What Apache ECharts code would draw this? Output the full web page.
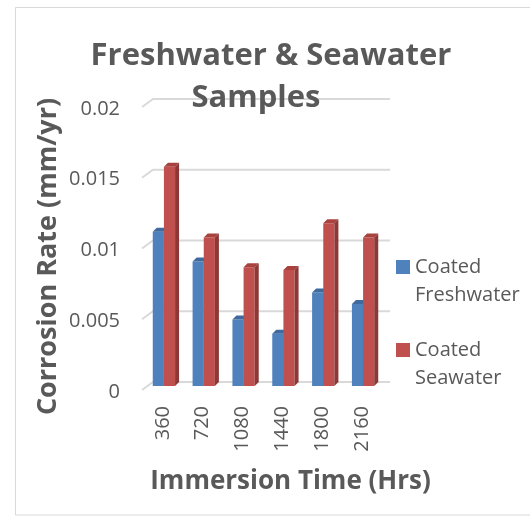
<!DOCTYPE html>
<html>
<head>
<meta charset="utf-8">
<script src="https://cdn.jsdelivr.net/npm/echarts@6/dist/echarts.min.js"></script>
<style>
  html, body { margin: 0; padding: 0; background: #fff; }
  #chart { width: 530px; height: 516px; }
</style>
</head>
<body>
<div id="chart"></div>
<script>
// chart data
var categories = ['360', '720', '1080', '1440', '1800', '2160'];
var freshwater = [0.0109, 0.0088, 0.0047, 0.0037, 0.0066, 0.0058];
var seawater = [0.0155, 0.0105, 0.0084, 0.0082, 0.0115, 0.0105];
var yTicks = [0, 0.005, 0.01, 0.015, 0.02];
var yTickLabels = ['0', '0.005', '0.01', '0.015', '0.02'];

var textColor = '#595959';
var font = '"Open Sans", sans-serif';

// 3d-looking bar: front face, top face, side face
function bar3d(slot, front, top, side) {
  return function (params, api) {
    var p = api.coord([api.value(0), api.value(1)]);
    var b = api.coord([api.value(0), 0]);
    var band = api.size([1, 0])[0];
    var w = band * 0.28;
    var d = 4;
    var bx = p[0] - w + slot * w;
    var ty = p[1];
    var by = b[1];
    return {
      type: 'group',
      children: [
        {
          type: 'rect',
          shape: { x: bx - d, y: ty + d, width: w, height: by - ty },
          style: { fill: front }
        },
        {
          type: 'polygon',
          shape: { points: [[bx - d, ty + d], [bx - d + w, ty + d], [bx + w, ty], [bx, ty]] },
          style: { fill: top }
        },
        {
          type: 'polygon',
          shape: { points: [[bx - d + w, ty + d], [bx + w, ty], [bx + w, by], [bx - d + w, by + d]] },
          style: { fill: side }
        }
      ]
    };
  };
}

// back wall gridlines with the slanted side-wall piece
function gridLine(params, api) {
  var cs = params.coordSys;
  var y = api.coord([0, api.value(1)])[1];
  return {
    type: 'polyline',
    shape: { points: [[cs.x - 6, y + 8], [cs.x + 5, y], [cs.x + cs.width + 3, y]] },
    style: { stroke: '#d9d9d9', lineWidth: 2, fill: null }
  };
}

var myChart = echarts.init(document.getElementById('chart'));
myChart.setOption({
  animation: false,
  textStyle: { fontFamily: font },
  graphic: [
    {
      type: 'rect',
      shape: { x: 15.5, y: 7.5, width: 530, height: 507.5 },
      style: { fill: null, stroke: '#d9d9d9', lineWidth: 1 },
      z: -10
    },
    {
      type: 'text',
      x: 271, y: 56,
      style: { text: 'Freshwater & Seawater', align: 'center', verticalAlign: 'middle', fill: textColor, font: 'bold 31px ' + font },
      z: 10
    },
    {
      type: 'text',
      x: 256, y: 98,
      style: { text: 'Samples', align: 'center', verticalAlign: 'middle', fill: textColor, font: 'bold 31px ' + font },
      z: 10
    }
  ],
  grid: {
    left: 148,
    right: 143,
    top: 99,
    bottom: 134
  },
  legend: {
    orient: 'vertical',
    left: 396,
    top: 225,
    padding: 0,
    itemWidth: 14,
    itemHeight: 14,
    itemGap: -1,
    icon: 'rect',
    formatter: function (name) {
      // empty first line keeps "Coated" level with the swatch
      return '\n' + name.replace(' ', '\n');
    },
    textStyle: {
      color: textColor,
      fontSize: 20,
      lineHeight: 28
    },
    data: ['Coated Freshwater', 'Coated Seawater']
  },
  xAxis: {
    type: 'category',
    data: categories,
    name: 'Immersion Time (Hrs)',
    nameLocation: 'middle',
    nameGap: 87,
    nameTextStyle: { color: textColor, fontSize: 26, fontWeight: 'bold', padding: [0, 0, 0, 46] },
    axisLine: { show: false },
    axisTick: { show: false },
    axisLabel: {
      rotate: 90,
      margin: 24,
      color: textColor,
      fontSize: 20,
      lineHeight: 10,
      verticalAlign: 'bottom'
    }
  },
  yAxis: {
    type: 'value',
    min: 0,
    max: 0.02,
    interval: 0.005,
    name: 'Corrosion Rate (mm/yr)',
    nameLocation: 'middle',
    nameRotate: 90,
    nameGap: 86,
    nameTextStyle: { color: textColor, fontSize: 27, fontWeight: 'bold', padding: [0, 32, 0, 0] },
    axisLine: { show: false },
    axisTick: { show: false },
    splitLine: { show: false },
    axisLabel: {
      margin: 28,
      color: textColor,
      fontSize: 20,
      lineHeight: 20,
      verticalAlign: 'top',
      formatter: function (v) {
        return yTickLabels[yTicks.indexOf(Math.round(v * 1000) / 1000)];
      }
    }
  },
  series: [
    {
      type: 'custom',
      name: 'grid',
      silent: true,
      z: 1,
      renderItem: gridLine,
      data: yTicks.map(function (v) { return [0, v]; })
    },
    {
      type: 'custom',
      name: 'Coated Freshwater',
      z: 2,
      itemStyle: { color: '#4F81BD' },
      renderItem: bar3d(0, '#4F81BD', '#3F6A9E', '#385D8A'),
      data: freshwater.map(function (v, i) { return [i, v]; })
    },
    {
      type: 'custom',
      name: 'Coated Seawater',
      z: 3,
      itemStyle: { color: '#C0504D' },
      renderItem: bar3d(1, '#C0504D', '#A8423F', '#8C3836'),
      data: seawater.map(function (v, i) { return [i, v]; })
    }
  ]
});
</script>
</body>
</html>
